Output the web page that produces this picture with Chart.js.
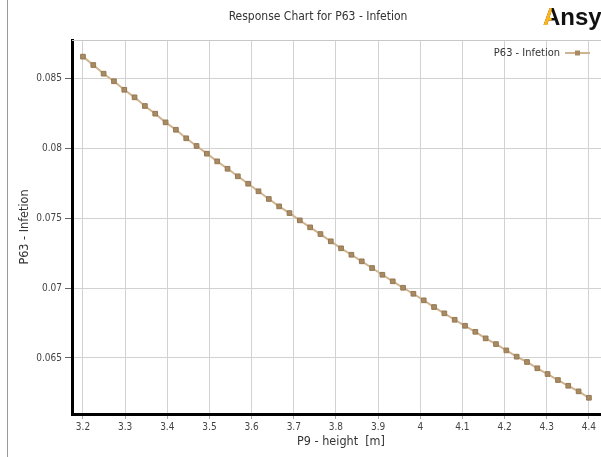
<!DOCTYPE html>
<html>
<head>
<meta charset="utf-8">
<script src="https://cdn.jsdelivr.net/npm/chart.js@4.4.1/dist/chart.umd.min.js"></script>
<style>
  html, body { margin: 0; padding: 0; background: #fff; }
  body { width: 601px; height: 457px; overflow: hidden; position: relative; }
  #edge { position: absolute; left: 7px; top: 0; width: 1px; height: 457px; background: #9a9a9a; }
  #wrap { position: absolute; left: 8px; top: 0; width: 623px; height: 457px; }
</style>
</head>
<body>
<div id="edge"></div>
<div id="wrap"><canvas id="c" width="623" height="457"></canvas></div>
<script>
const TITLE = 'Response Chart for P63 - Infetion';
const SERIES_NAME = 'P63 - Infetion';
const X_TITLE = 'P9 - height  [m]';
const Y_TITLE = 'P63 - Infetion';
const LOGO = 'Ansys';

const X_VALUES = [
  3.2, 3.2245, 3.2490, 3.2735, 3.2980, 3.3224, 3.3469, 3.3714, 3.3959, 3.4204,
  3.4449, 3.4694, 3.4939, 3.5184, 3.5429, 3.5673, 3.5918, 3.6163, 3.6408, 3.6653,
  3.6898, 3.7143, 3.7388, 3.7633, 3.7878, 3.8122, 3.8367, 3.8612, 3.8857, 3.9102,
  3.9347, 3.9592, 3.9837, 4.0082, 4.0327, 4.0571, 4.0816, 4.1061, 4.1306, 4.1551,
  4.1796, 4.2041, 4.2286, 4.2531, 4.2776, 4.3020, 4.3265, 4.3510, 4.3755, 4.4
];
const Y_VALUES = [
  0.08655, 0.08595, 0.08533, 0.08479, 0.08418, 0.08364, 0.08302, 0.08247, 0.08185, 0.08132,
  0.08071, 0.08016, 0.07961, 0.07906, 0.07853, 0.07799, 0.07746, 0.07692, 0.07637, 0.07584,
  0.07536, 0.07484, 0.07434, 0.07386, 0.07334, 0.07284, 0.07238, 0.07191, 0.07143, 0.07095,
  0.07048, 0.07002, 0.06959, 0.06912, 0.06864, 0.06819, 0.06773, 0.06730, 0.06687, 0.06640,
  0.06599, 0.06554, 0.06509, 0.06471, 0.06426, 0.06385, 0.06342, 0.06301, 0.06261, 0.06215
];
const X_TICKS = [3.2, 3.3, 3.4, 3.5, 3.6, 3.7, 3.8, 3.9, 4, 4.1, 4.2, 4.3, 4.4];
const X_TICK_LABELS = ['3.2', '3.3', '3.4', '3.5', '3.6', '3.7', '3.8', '3.9', '4', '4.1', '4.2', '4.3', '4.4'];
const Y_TICKS = [0.065, 0.07, 0.075, 0.08, 0.085];
const Y_TICK_LABELS = ['0.065', '0.07', '0.075', '0.08', '0.085'];

const LINE_COLOR = '#D0B48F';
const MARK_FILL = '#A88B63';
const MARK_EDGE = '#957853';
const FONT = '"DejaVu Sans Condensed", "DejaVu Sans", Verdana, sans-serif';

const extras = {
  id: 'extras',
  beforeDatasetsDraw(chart) {
    const {ctx, chartArea: a} = chart;
    ctx.save();
    ctx.strokeStyle = '#c8c8c8'; ctx.lineWidth = 1;
    ctx.beginPath(); ctx.moveTo(a.left, a.top + 0.5); ctx.lineTo(a.right, a.top + 0.5); ctx.stroke();
    ctx.restore();
  },
  afterDraw(chart) {
    const ctx = chart.ctx;
    const a = chart.chartArea;
    ctx.save();
    // title
    ctx.font = '12px ' + FONT;
    ctx.fillStyle = '#333';
    ctx.textAlign = 'center';
    ctx.textBaseline = 'middle';
    ctx.fillText(TITLE, 310, 17);

    // legend inside plot, top right
    ctx.font = '11px ' + FONT;
    ctx.textAlign = 'right';
    ctx.fillStyle = '#333';
    const ly = a.top + 13;
    const lx = a.right - 50;
    ctx.fillText(SERIES_NAME, lx, ly);
    ctx.strokeStyle = LINE_COLOR; ctx.lineWidth = 2;
    ctx.beginPath(); ctx.moveTo(lx + 5, ly); ctx.lineTo(lx + 30, ly); ctx.stroke();
    ctx.fillStyle = MARK_FILL;
    ctx.fillRect(lx + 15, ly - 2.5, 5, 5);

    // logo
    ctx.font = 'bold 24px "Liberation Sans", Arial, sans-serif';
    ctx.textAlign = 'left';
    ctx.textBaseline = 'alphabetic';
    const x0 = 535, y0 = 25;
    const wA = ctx.measureText('A').width;
    ctx.fillStyle = '#111';
    ctx.fillText(LOGO, x0, y0);
    ctx.beginPath(); ctx.rect(x0 - 1, 0, wA * 0.5 + 1, 40); ctx.clip();
    ctx.fillStyle = '#FFB71B';
    ctx.fillText(LOGO.charAt(0), x0, y0);
    ctx.restore();
  }
};

new Chart(document.getElementById('c'), {
  type: 'line',
  data: {
    datasets: [{
      label: SERIES_NAME,
      data: X_VALUES.map((x, i) => ({x: x, y: Y_VALUES[i]})),
      borderColor: LINE_COLOR,
      borderWidth: 2,
      backgroundColor: MARK_FILL,
      pointStyle: 'rect',
      pointRadius: 3.3,
      pointBackgroundColor: MARK_FILL,
      pointBorderColor: MARK_EDGE,
      pointBorderWidth: 1,
      tension: 0,
      fill: false
    }]
  },
  options: {
    responsive: false,
    animation: false,
    devicePixelRatio: 1,
    layout: { padding: { left: 0, right: 21, top: 40, bottom: 0 } },
    plugins: {
      title: { display: false },
      legend: { display: false },
      tooltip: { enabled: false }
    },
    scales: {
      x: {
        type: 'linear',
        min: 3.174,
        max: 4.45,
        afterFit(s) { s.height = 43; },
        afterBuildTicks(s) { s.ticks = X_TICKS.map(v => ({value: v})); },
        grid: { color: '#d2d2d2', lineWidth: 1, drawTicks: true, tickLength: 5, tickColor: '#aaa' },
        border: { display: true, color: '#000', width: 3 },
        ticks: {
          color: '#444', padding: 2, maxRotation: 0, autoSkip: false,
          font: { family: FONT, size: 10 },
          callback(v) { const i = X_TICKS.indexOf(v); return i >= 0 ? X_TICK_LABELS[i] : ''; }
        },
        title: {
          display: true, text: X_TITLE, color: '#333',
          font: { family: FONT, size: 12.5, lineHeight: 1.2 },
          padding: { top: 0, bottom: 8 }
        }
      },
      y: {
        type: 'linear',
        min: 0.06099,
        max: 0.08774,
        afterFit(s) { s.width = 64; },
        afterBuildTicks(s) { s.ticks = Y_TICKS.map(v => ({value: v})); },
        grid: { color: '#d2d2d2', lineWidth: 1, drawTicks: true, tickLength: 7, tickColor: '#666' },
        border: { display: true, color: '#000', width: 3 },
        ticks: {
          color: '#444', padding: 3, autoSkip: false,
          font: { family: FONT, size: 10 },
          callback(v) { const i = Y_TICKS.indexOf(v); return i >= 0 ? Y_TICK_LABELS[i] : ''; }
        },
        title: {
          display: true, text: Y_TITLE, color: '#333',
          font: { family: FONT, size: 12.5, lineHeight: 1.2 },
          padding: { top: 9, bottom: 0 }
        }
      }
    }
  },
  plugins: [extras]
});
</script>
</body>
</html>
